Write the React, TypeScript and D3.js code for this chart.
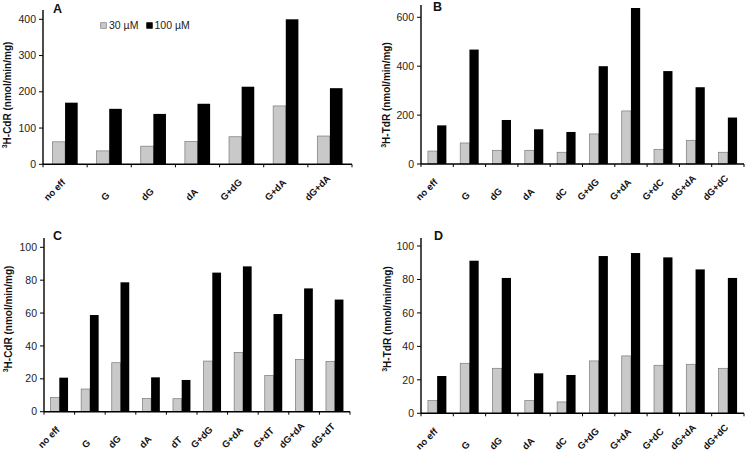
import React, { useEffect, useRef } from "react";
import * as d3 from "d3";

const catsA = ["no eff", "G", "dG", "dA", "G+dG", "G+dA", "dG+dA"];
const a30 = [62, 37, 50, 63, 76, 161, 78];
const a100 = [170, 153, 139, 167, 214, 400, 210];

const catsB = ["no eff", "G", "dG", "dA", "dC", "G+dG", "G+dA", "G+dC", "dG+dA", "dG+dC"];
const b30 = [53, 86, 56, 56, 48, 123, 217, 60, 97, 48];
const b100 = [158, 468, 180, 142, 131, 400, 638, 380, 314, 190];

const catsC = ["no eff", "G", "dG", "dA", "dT", "G+dG", "G+dA", "G+dT", "dG+dA", "dG+dT"];
const c30 = [8.7, 13.8, 29.8, 8.1, 7.9, 30.8, 36.1, 22.1, 31.8, 30.6];
const c100 = [20.7, 58.8, 78.7, 20.9, 19.3, 84.6, 88.4, 59.4, 75, 68.2];

const catsD = ["no eff", "G", "dG", "dA", "dC", "G+dG", "G+dA", "G+dC", "dG+dA", "dG+dC"];
const d30 = [7.6, 29.9, 26.9, 7.6, 6.8, 31.3, 34.3, 28.7, 29.3, 26.9];
const d100 = [22.3, 91.2, 80.9, 23.9, 22.9, 94, 95.8, 93.2, 86, 80.9];

const seriesNames = ["30 \u00B5M", "100 \u00B5M"];
const yTitles = ["H-CdR (nmol/min/mg)", "H-TdR (nmol/min/mg)", "H-CdR (nmol/min/mg)", "H-TdR (nmol/min/mg)"];
const letters = ["A", "B", "C", "D"];

const FONT = "'Liberation Sans', Arial, Helvetica, sans-serif";
const GREY = "#c9c9c9";
const GREY_STROKE = "#7a7a7a";
const XLAB_SIZE = 9.5;

const panels = [
  { cats: catsA, s30: a30, s100: a100, yMax: 400, step: 100, x0: 43, x1: 352, zeroY: 164.3, topY: 19.3, axisTop: 10, labelX: 11, labelCY: 95, letterX: 53, letterY: 13, legend: true },
  { cats: catsB, s30: b30, s100: b100, yMax: 600, step: 200, x0: 421, x1: 744, zeroY: 164, topY: 17.3, axisTop: 5, labelX: 390, labelCY: 95, letterX: 433, letterY: 11, legend: false },
  { cats: catsC, s30: c30, s100: c100, yMax: 100, step: 20, x0: 44, x1: 350, zeroY: 411.7, topY: 247.3, axisTop: 238, labelX: 12, labelCY: 319, letterX: 53, letterY: 240, legend: false },
  { cats: catsD, s30: d30, s100: d100, yMax: 100, step: 20, x0: 421, x1: 744, zeroY: 413.3, topY: 246, axisTop: 238, labelX: 391, labelCY: 319, letterX: 434, letterY: 240, legend: false },
];

function measure(text: string): number {
  const canvas = document.createElement("canvas");
  const ctx = canvas.getContext("2d");
  if (!ctx) return text.length * XLAB_SIZE * 0.6;
  ctx.font = `bold ${XLAB_SIZE}px 'Liberation Sans', Arial, sans-serif`;
  return ctx.measureText(text).width;
}

export default function App() {
  const ref = useRef<SVGSVGElement>(null);

  useEffect(() => {
    const svg = d3.select(ref.current);
    svg.selectAll("*").remove();
    const defs = svg.append("defs");

    panels.forEach((p, pi) => {
      const g = svg.append("g");
      const x = d3.scaleBand<string>().domain(p.cats).range([p.x0, p.x1]);
      const inner = d3.scaleBand<string>().domain(seriesNames).range([0, x.bandwidth()]).paddingOuter(0.75);
      const y = d3.scaleLinear().domain([0, p.yMax]).range([p.zeroY, p.topY]);

      p.cats.forEach((c, i) => {
        const bx = x(c)!;
        const v30 = p.s30[i];
        const v100 = p.s100[i];
        g.append("rect")
          .attr("x", bx + inner(seriesNames[0])!)
          .attr("y", y(v30))
          .attr("width", inner.bandwidth())
          .attr("height", y(0) - y(v30))
          .attr("fill", GREY)
          .attr("stroke", GREY_STROKE)
          .attr("stroke-width", 0.7);
        g.append("rect")
          .attr("x", bx + inner(seriesNames[1])!)
          .attr("y", y(v100))
          .attr("width", inner.bandwidth())
          .attr("height", y(0) - y(v100))
          .attr("fill", "#000");
      });

      const ticks = d3.range(0, p.yMax + 0.001, p.step);
      g.append("line")
        .attr("x1", p.x0).attr("x2", p.x0)
        .attr("y1", p.axisTop).attr("y2", p.zeroY)
        .attr("stroke", "#000").attr("stroke-width", 1.4);
      ticks.forEach((t) => {
        g.append("line")
          .attr("x1", p.x0 - 4).attr("x2", p.x0)
          .attr("y1", y(t)).attr("y2", y(t))
          .attr("stroke", "#000").attr("stroke-width", 1);
        g.append("text")
          .attr("x", p.x0 - 7)
          .attr("y", y(t))
          .attr("dy", "0.35em")
          .attr("text-anchor", "end")
          .attr("font-family", FONT)
          .attr("font-size", 10.5)
          .attr("fill", "#222")
          .text(String(t));
      });

      g.append("line")
        .attr("x1", p.x0).attr("x2", p.x1)
        .attr("y1", p.zeroY).attr("y2", p.zeroY)
        .attr("stroke", "#000").attr("stroke-width", 1.4);
      const bounds = p.cats.map((c) => x(c)!).concat([p.x1]);
      bounds.forEach((bx) => {
        g.append("line")
          .attr("x1", bx).attr("x2", bx)
          .attr("y1", p.zeroY).attr("y2", p.zeroY + 3)
          .attr("stroke", "#000").attr("stroke-width", 1);
      });

      // rotated category labels drawn along diagonal paths
      const k = Math.SQRT1_2;
      p.cats.forEach((c, ci) => {
        const cx = x(c)! + x.bandwidth() / 2;
        const L = measure(c);
        const sx = cx + 1 - L * k;
        const sy = p.zeroY + 37;
        const ext = L + 20;
        const id = `xl-${pi}-${ci}`;
        defs.append("path")
          .attr("id", id)
          .attr("d", `M${sx.toFixed(2)},${sy.toFixed(2)} L${(sx + ext * k).toFixed(2)},${(sy - ext * k).toFixed(2)}`);
        g.append("text")
          .attr("font-family", FONT)
          .attr("font-weight", "bold")
          .attr("font-size", XLAB_SIZE)
          .attr("fill", "#111")
          .append("textPath")
          .attr("href", `#${id}`)
          .text(c);
      });

      const yt = g.append("text")
        .attr("transform", `translate(${p.labelX},${p.labelCY}) rotate(-90)`)
        .attr("text-anchor", "middle")
        .attr("font-family", FONT)
        .attr("font-weight", "bold")
        .attr("font-size", 10)
        .attr("fill", "#111");
      yt.append("tspan").attr("font-size", 7).attr("dy", -4).text("3");
      yt.append("tspan").attr("dy", 4).text(yTitles[pi]);

      g.append("text")
        .attr("x", p.letterX).attr("y", p.letterY)
        .attr("font-family", FONT)
        .attr("font-weight", "bold")
        .attr("font-size", 12.5)
        .attr("fill", "#111")
        .text(letters[pi]);

      if (p.legend) {
        const items = [
          { name: seriesNames[0], fill: GREY, stroke: GREY_STROKE, bx: 100.7, tx: 109 },
          { name: seriesNames[1], fill: "#000", stroke: "#000", bx: 146.7, tx: 154.5 },
        ];
        items.forEach((it) => {
          g.append("rect")
            .attr("x", it.bx).attr("y", 22.7)
            .attr("width", 5.6).attr("height", 5.6)
            .attr("fill", it.fill).attr("stroke", it.stroke).attr("stroke-width", 0.7);
          g.append("text")
            .attr("x", it.tx).attr("y", 29.2)
            .attr("font-family", FONT)
            .attr("font-size", 10.5)
            .attr("fill", "#222")
            .text(it.name);
        });
      }
    });
  }, []);

  return (
    <svg
      ref={ref}
      width={745}
      height={451}
      style={{ position: "absolute", left: 0, top: 0, background: "#fff" }}
    />
  );
}
